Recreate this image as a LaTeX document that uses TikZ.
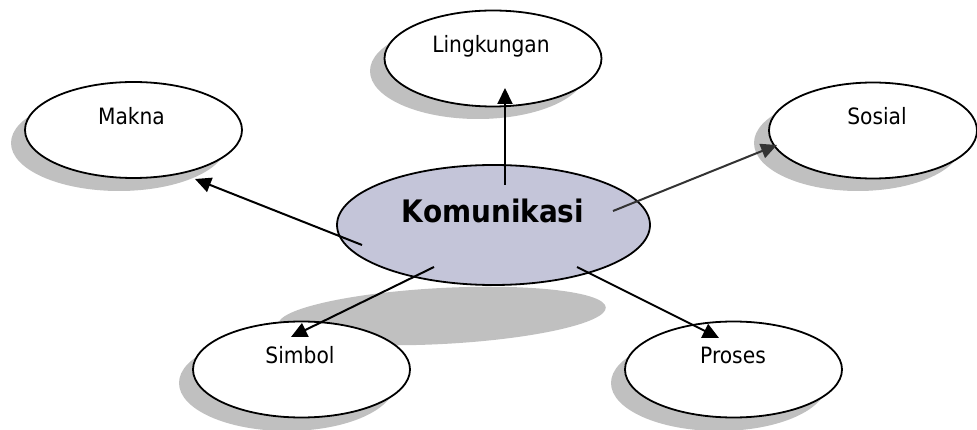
\documentclass[tikz,border=0pt]{standalone}
\usepackage{fontspec}
\IfFontExistsTF{DejaVu Sans Condensed}
  {\setmainfont{DejaVu Sans Condensed}\newcommand\kmsmall{22.5}\newcommand\kmbig{31}}
  {\setmainfont{DejaVu Sans}\newcommand\kmsmall{20.3}\newcommand\kmbig{27.6}}
\usetikzlibrary{shapes.geometric,arrows.meta}
\definecolor{shadowgray}{RGB}{192,192,192}
\definecolor{hubfill}{RGB}{196,197,217}
\tikzset{
  bubble/.style={ellipse, draw=black, line width=1.8pt, fill=white, inner sep=0pt,
                 minimum width=217pt, minimum height=96pt},
  hub/.style={ellipse, draw=black, line width=1.8pt, fill=hubfill, inner sep=0pt,
              minimum width=313pt, minimum height=120pt},
  word/.style={anchor=base, inner sep=0pt, font=\fontsize{\kmsmall}{\kmsmall}\selectfont},
  hubword/.style={anchor=base, inner sep=0pt, font=\fontsize{\kmbig}{\kmbig}\selectfont\bfseries},
  link/.style={line width=2pt, -{Triangle[length=16pt,width=15pt]}},
}
\begin{document}
\begin{tikzpicture}[x=1pt,y=-1pt]
\useasboundingbox (0,0) rectangle (977,430);

% drop shadows behind the bubbles
\fill[shadowgray] (478,71) ellipse [x radius=108pt, y radius=48pt];
\fill[shadowgray] (119,143) ellipse [x radius=108pt, y radius=48pt];
\fill[shadowgray] (858,143) ellipse [x radius=104pt, y radius=48pt];
\fill[shadowgray] (287,383) ellipse [x radius=108pt, y radius=48pt];
\fill[shadowgray] (719,383) ellipse [x radius=108pt, y radius=48pt];
% cast shadow of the central bubble
\fill[shadowgray, rotate around={3:(442,316)}] (442,316) ellipse [x radius=164pt, y radius=28pt];

% bubbles
\node[bubble] (ling) at (493,58.5) {};
\node[bubble] (makna) at (133.5,130) {};
\node[bubble, minimum width=208pt] (sosial) at (873,130.5) {};
\node[bubble] (simbol) at (301.5,369.5) {};
\node[bubble] (proses) at (733.5,369.5) {};
\node[hub] (kom) at (493.5,225) {};

% labels
\node[word] (ling-t) at (491,53) {Lingkungan};
\node[word] (makna-t) at (131.5,125) {Makna};
\node[word] (sosial-t) at (877,125) {Sosial};
\node[word] (simbol-t) at (300,363) {Simbol};
\node[word] (proses-t) at (733,363) {Proses};
\node[hubword] (kom-t) at (493,223) {Komunikasi};

% arrow ends
\coordinate (a1) at (505,185);  \coordinate (b1) at (505,88);
\coordinate (a2) at (362,245);  \coordinate (b2) at (195,179);
\coordinate (a3) at (613,211);  \coordinate (b3) at (777,145);
\coordinate (a4) at (434,267);  \coordinate (b4) at (291,337);
\coordinate (a5) at (577,267);  \coordinate (b5) at (719,338);

\draw[link] (a1) -- (b1);
\draw[link] (a2) -- (b2);
\draw[link, black!80] (a3) -- (b3);
\draw[link] (a4) -- (b4);
\draw[link] (a5) -- (b5);
\end{tikzpicture}
\end{document}
